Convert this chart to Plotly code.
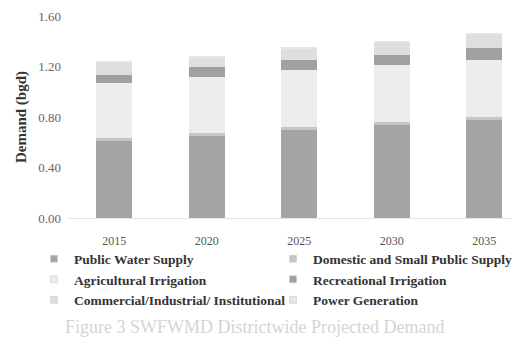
import plotly.graph_objects as go

# Projected water demand by use category (billion gallons per day)
years = ["2015", "2020", "2025", "2030", "2035"]
public_water_supply = [0.61, 0.65, 0.70, 0.74, 0.78]
domestic_small_public = [0.02, 0.02, 0.02, 0.02, 0.02]
agricultural_irrigation = [0.44, 0.45, 0.45, 0.45, 0.45]
recreational_irrigation = [0.06, 0.08, 0.08, 0.08, 0.10]
commercial_industrial = [0.10, 0.07, 0.09, 0.10, 0.10]
power_generation = [0.01, 0.01, 0.01, 0.01, 0.01]

series = [
    ("Public Water Supply", public_water_supply, "#a4a4a4"),
    ("Domestic and Small Public Supply", domestic_small_public, "#c6c6c6"),
    ("Agricultural Irrigation", agricultural_irrigation, "#ececec"),
    ("Recreational Irrigation", recreational_irrigation, "#a0a0a0"),
    ("Commercial/Industrial/ Institutional", commercial_industrial, "#dedede"),
    ("Power Generation", power_generation, "#e6e6e6"),
]

serif = "Liberation Serif, Times New Roman, serif"

fig = go.Figure()
for name, vals, color in series:
    fig.add_trace(go.Bar(
        x=years, y=vals, name=name, legendgroup=name, showlegend=False,
        marker=dict(color=color, line=dict(width=0)),
        width=0.39,
    ))

# compact square swatches for the legend
for name, vals, color in series:
    fig.add_trace(go.Scatter(
        x=[None], y=[None], mode="markers", name=name, legendgroup=name,
        marker=dict(symbol="square", size=7, color=color,
                    line=dict(width=0.6, color="#cccccc")),
    ))

fig.update_layout(
    barmode="stack",
    width=512, height=345,
    margin=dict(l=68, r=0, t=16, b=126.5),
    paper_bgcolor="white", plot_bgcolor="white",
    font=dict(family=serif, color="#555555", size=12),
    xaxis=dict(
        range=[-0.5, 4.3], showgrid=False, zeroline=False,
        showline=True, linecolor="#e4e4e4", linewidth=1,
        ticks="", ticklabelstandoff=12,
        tickfont=dict(family=serif, size=12, color="#555555"),
    ),
    yaxis=dict(
        range=[0, 1.6], tickvals=[0, 0.4, 0.8, 1.2, 1.6],
        ticktext=["0.00", "0.40", "0.80", "1.20", "1.60"],
        showgrid=False, zeroline=False, showline=False, ticks="",
        ticklabelstandoff=6,
        tickfont=dict(family=serif, size=13, color="#666666"),
        title=dict(text="<b>Demand (bgd)</b>", standoff=8,
                   font=dict(family=serif, size=15, color="#333333")),
    ),
    showlegend=True,
    legend=dict(
        orientation="h", x=-0.036, xanchor="left", y=-0.126, yanchor="top",
        entrywidth=194, entrywidthmode="pixels",
        itemwidth=30, traceorder="normal",
        font=dict(family=serif, size=13.5, color="#333333", weight="bold"),
        bgcolor="rgba(0,0,0,0)",
    ),
    bargap=0.6,
)

fig.add_annotation(
    text="Figure 3 SWFWMD Districtwide Projected Demand",
    xref="paper", yref="paper", x=0.42, y=-0.54, yanchor="middle",
    showarrow=False,
    font=dict(family=serif, size=18, color="#d4d4d4"),
)

fig.write_html("out.html")
